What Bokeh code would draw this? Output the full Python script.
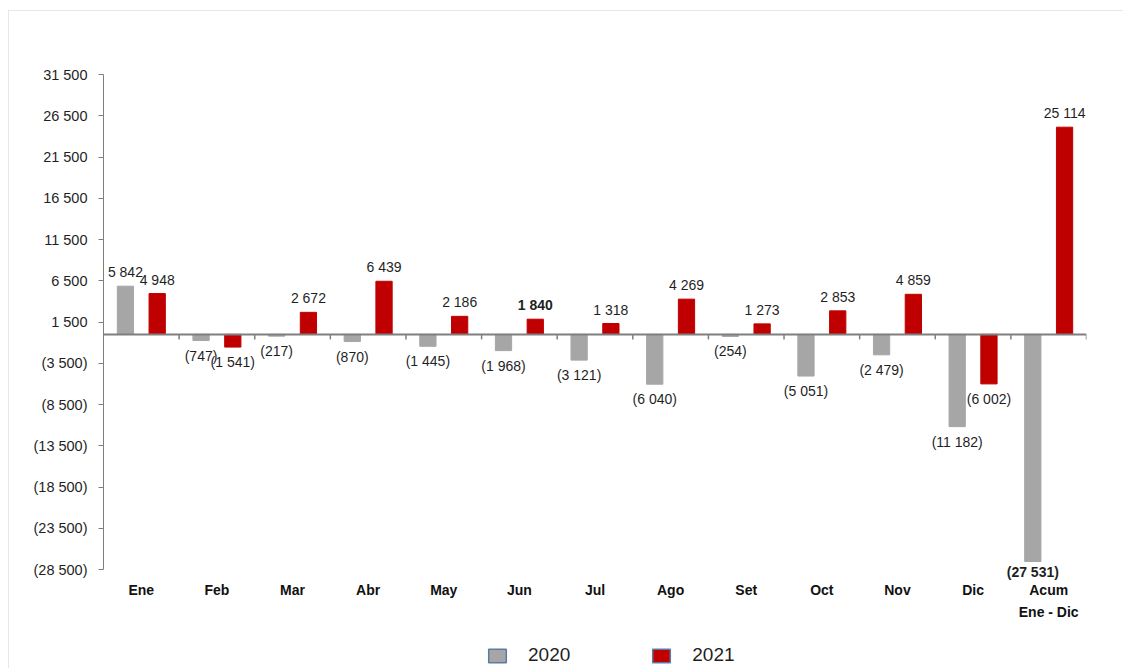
from bokeh.plotting import figure
from bokeh.models import (ColumnDataSource, FixedTicker, Range1d, Legend, LegendItem)
from bokeh.embed import file_html
from bokeh.resources import INLINE
from bokeh.core.properties import value

# ---------------- data ----------------
months = ["Ene", "Feb", "Mar", "Abr", "May", "Jun", "Jul", "Ago", "Set", "Oct", "Nov", "Dic", "Acum\nEne - Dic"]
v2020 = [5842, -747, -217, -870, -1445, -1968, -3121, -6040, -254, -5051, -2479, -11182, -27531]
v2021 = [4948, -1541, 2672, 6439, 2186, 1840, 1318, 4269, 1273, 2853, 4859, -6002, 25114]
bold2020 = [False] * 12 + [True]
bold2021 = [False, False, False, False, False, True, False, False, False, False, False, False, False]
series_names = ["2020", "2021"]
y_ticks = [-28500, -23500, -18500, -13500, -8500, -3500, 1500, 6500, 11500, 16500, 21500, 26500, 31500]

# ---------------- layout / styles ----------------
GREY = "#a6a6a6"
RED = "#c00000"
FONT = "Liberation Sans"
TXT = "#1f1f1f"
OFF = 0.21
BW = 0.215
FIG_LEFT, FIG_TOP = 8, 10
AXIS_LEFT, AXIS_RIGHT = 102, 1085
AXIS_TOP, AXIS_BOTTOM, FIG_BOTTOM = 73, 568, 668   # page pixels


def fmt(v):
    s = f"{abs(v):,}".replace(",", " ")
    return f"({s})" if v < 0 else s


n = len(months)
per_px = (y_ticks[-1] - y_ticks[0]) / (AXIS_BOTTOM - AXIS_TOP)
y_start = y_ticks[0] - (FIG_BOTTOM - AXIS_BOTTOM) * per_px
W = 1123 - FIG_LEFT

p = figure(width=W, height=FIG_BOTTOM - FIG_TOP, output_backend="svg", toolbar_location=None,
           x_range=Range1d(0, n), y_range=Range1d(y_start, y_ticks[-1]),
           min_border_left=AXIS_LEFT - FIG_LEFT, min_border_top=AXIS_TOP - FIG_TOP,
           min_border_right=FIG_LEFT + W - AXIS_RIGHT, min_border_bottom=0)
p.styles = {"margin-top": f"{FIG_TOP}px", "margin-left": f"{FIG_LEFT}px",
            "border-top": "1px solid #e3e8ee", "border-left": "1px solid #e3e8ee",
            "box-sizing": "border-box"}
p.grid.visible = False
p.outline_line_color = None
p.background_fill_color = "white"
p.border_fill_color = "white"
p.xaxis.visible = False

# y axis
ya = p.yaxis[0]
ya.ticker = FixedTicker(ticks=y_ticks)
ya.bounds = (y_ticks[0], y_ticks[-1])
ya.major_label_overrides = {t: fmt(t) for t in y_ticks}
ya.major_label_text_font = FONT
ya.major_label_text_font_size = "14.5px"
ya.major_label_text_color = TXT
ya.axis_line_color = "#7f7f7f"
ya.major_tick_line_color = "#7f7f7f"
ya.major_tick_in = 0
ya.major_tick_out = 5
ya.minor_tick_line_color = None
ya.major_label_standoff = 11

centers = [i + 0.5 for i in range(n)]

# bars
x20 = [c - OFF for c in centers]
x21 = [c + OFF for c in centers]
src20 = ColumnDataSource(dict(x=x20, top=v2020, lab=[fmt(v) for v in v2020],
                              fs=["bold" if b else "normal" for b in bold2020]))
src21 = ColumnDataSource(dict(x=x21, top=v2021, lab=[fmt(v) for v in v2021],
                              fs=["bold" if b else "normal" for b in bold2021]))
p.vbar(x="x", top="top", bottom=0, width=BW, source=src20, fill_color=GREY, line_color=GREY)
p.vbar(x="x", top="top", bottom=0, width=BW, source=src21, fill_color=RED, line_color=RED)

# zero line with category boundary ticks
p.segment(x0=[0], x1=[n], y0=[0], y1=[0], line_color="#7f7f7f", line_width=2)
tick_len = 5 * per_px
bounds = list(range(1, n + 1))
p.segment(x0=bounds, x1=bounds, y0=[0] * len(bounds), y1=[-tick_len] * len(bounds),
          line_color="#7f7f7f", line_width=1.5)

# category labels under the plot
p.text(x=centers, y=[y_ticks[0]] * n, text=months, text_align="center", text_baseline="top",
       y_offset=12, text_font=value(FONT), text_font_size="14px", text_font_style="bold",
       text_color="#111111", text_line_height=1.4)

# data labels
for src, vals in ((src20, v2020), (src21, v2021)):
    d = src.data
    for sign, base in ((1, "bottom"), (-1, "top")):
        idx = [i for i, v in enumerate(vals) if (v >= 0) == (sign > 0)]
        if not idx:
            continue
        if sign > 0:
            offs = [-6] * len(idx)
        else:
            # keep negative labels above the category labels
            offs = [min(7, (vals[i] - y_ticks[0]) / per_px - 6) for i in idx]
        s = ColumnDataSource(dict(x=[d["x"][i] for i in idx], y=[d["top"][i] for i in idx],
                                  lab=[d["lab"][i] for i in idx], fs=[d["fs"][i] for i in idx],
                                  off=offs))
        p.text(x="x", y="y", text="lab", source=s, text_align="center", text_baseline=base,
               y_offset="off", text_font=value(FONT), text_font_size="14px",
               text_font_style="fs", text_color=TXT)

# legend with off-range dummy renderers (only their swatches are shown)
r1 = p.vbar(x=[-1], top=[0], width=BW, fill_color=GREY, line_color="#5a7ba3", line_width=1.5)
r2 = p.vbar(x=[-1], top=[0], width=BW, fill_color=RED, line_color="#5a7ba3", line_width=1.5)
legend = Legend(items=[LegendItem(label=series_names[0], renderers=[r1]),
                       LegendItem(label=series_names[1], renderers=[r2])],
                orientation="horizontal", location=(383, 3),
                glyph_width=22, glyph_height=17, label_standoff=20, spacing=80,
                label_text_font=FONT, label_text_font_size="19px", label_text_color=TXT,
                border_line_color=None, background_fill_alpha=0, padding=0, margin=0)
p.add_layout(legend, "center")

open("out.html", "w").write(file_html(p, INLINE))
